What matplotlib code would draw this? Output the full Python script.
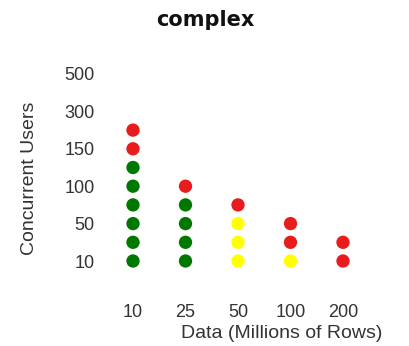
import matplotlib.pyplot as plt

data_sizes = ['10', '25', '50', '100', '200']
user_labels = ['10', '50', '100', '150', '300', '500']
user_label_levels = [0, 2, 4, 6, 8, 10]

# dot colour per level (bottom to top) for each data size
status = [
    ['g', 'g', 'g', 'g', 'g', 'g', 'r', 'r'],
    ['g', 'g', 'g', 'g', 'r'],
    ['y', 'y', 'y', 'r'],
    ['y', 'r', 'r'],
    ['r', 'r'],
]
colours = {'g': '#007800', 'y': '#ffff00', 'r': '#e81c1c'}

plt.rcParams['font.family'] = ['Liberation Sans', 'DejaVu Sans']

fig = plt.figure(figsize=(4.1, 3.46), dpi=100)
W, H = 410.0, 346.0
ax = fig.add_axes([100 / W, 1 - 290 / H, 280 / W, 230 / H])

for i, col in enumerate(status):
    for level, s in enumerate(col):
        ax.scatter(i, level, s=92, color=colours[s], edgecolors='none', zorder=3)

ax.set_xlim((100 - 133) / 52.5, (380 - 133) / 52.5)
ax.set_ylim((261 - 290) / 18.7, (261 - 60) / 18.7)

ax.set_xticks(range(len(data_sizes)))
ax.set_xticklabels(data_sizes)
ax.set_yticks(user_label_levels)
ax.set_yticklabels(user_labels)
ax.tick_params(length=0, labelsize=13, colors='#333333')
ax.tick_params(axis='x', pad=10)
ax.tick_params(axis='y', pad=4)
for sp in ax.spines.values():
    sp.set_visible(False)

ax.set_xlabel('Data (Millions of Rows)', fontsize=14, color='#333333')
ax.xaxis.set_label_coords(0.65, -0.15)
ax.set_ylabel('Concurrent Users', fontsize=14, color='#333333')
ax.yaxis.set_label_coords(-0.22, 0.487)

fig.text(205 / W, 1 - 20 / H, 'complex', ha='center', va='center',
         fontsize=15, fontweight='bold', family='DejaVu Sans', color='#111111')

fig.savefig('out.png', dpi=100)
